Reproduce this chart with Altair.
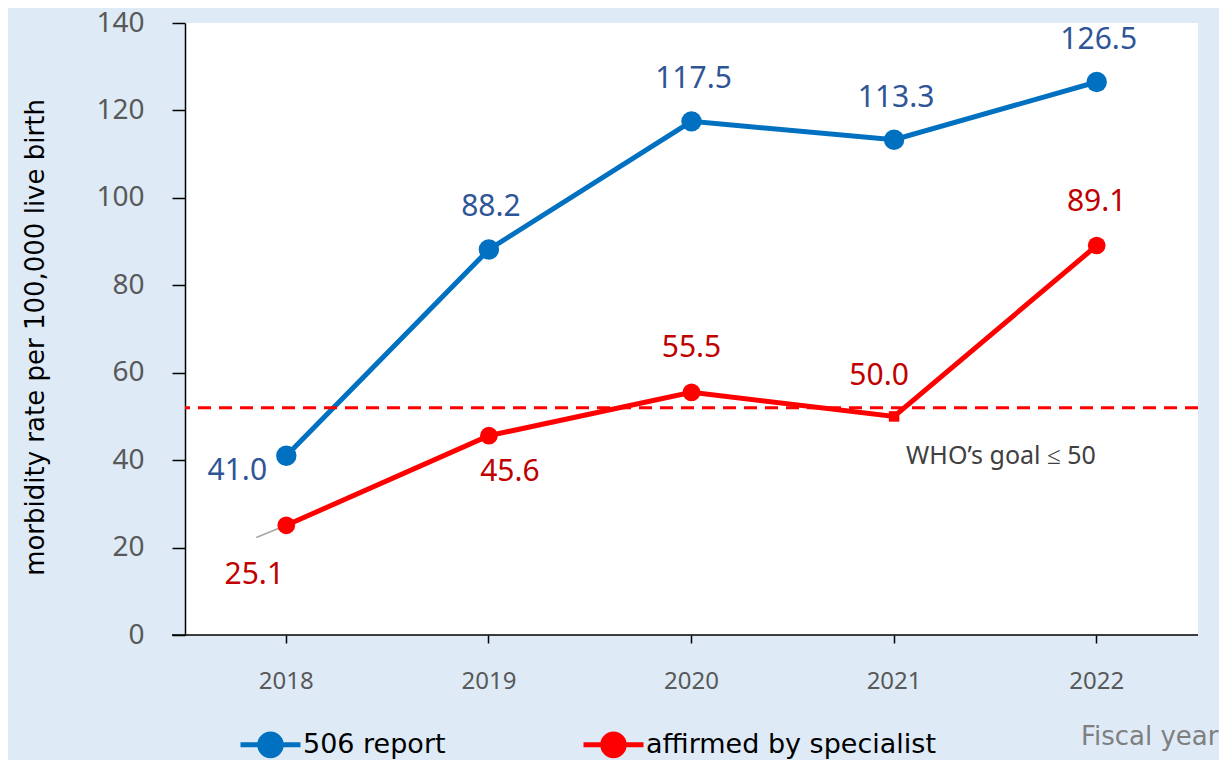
import altair as alt
import pandas as pd

years = ["2018", "2019", "2020", "2021", "2022"]
report_506 = [41.0, 88.2, 117.5, 113.3, 126.5]
affirmed = [25.1, 45.6, 55.5, 50.0, 89.1]
series_names = ["506 report", "affirmed by specialist"]
who_goal_line = 52.0
who_label_value = 40.9
leader_end_value = 22.3

rows = []
for y, v in zip(years, report_506):
    rows.append({"year": y, "value": v, "series": series_names[0]})
for y, v in zip(years, affirmed):
    rows.append({"year": y, "value": v, "series": series_names[1]})
df = pd.DataFrame(rows)

BLUE = "#0070C0"
RED = "#FF0000"
BLUE_TXT = "#2F5597"
RED_TXT = "#C00000"
FONT = "Noto Sans"
FONT2 = "DejaVu Sans"

x_enc = alt.X("year:O", sort=years,
              axis=alt.Axis(title="Fiscal year", labelAngle=0, labelFontSize=24,
                            labelColor="#595959", labelFont=FONT, labelPadding=26,
                            tickSize=8, tickColor="black", tickWidth=1.5,
                            domain=False, titleFont=FONT2, titleFontSize=26,
                            titleColor="#7F7F7F", titleFontWeight="normal",
                            titleAnchor="end", titleAlign="right",
                            titleX=1033, titleY=101, titleBaseline="middle"))
y_enc = alt.Y("value:Q", scale=alt.Scale(domain=[0, 140]),
              axis=alt.Axis(title="morbidity rate per 100,000 live birth",
                            values=[0, 20, 40, 60, 80, 100, 120, 140], grid=False,
                            labelFontSize=28, labelColor="#595959", labelFont=FONT,
                            labelPadding=28, tickSize=13, tickColor="black", tickWidth=1.5,
                            domainColor="black", domainWidth=1.5,
                            titleFont=FONT2, titleFontSize=26, titleColor="black",
                            titleFontWeight="normal", titlePadding=47, titleY=314))

base = alt.Chart(df)

legend_path = "M-1,0L1,0M0.36,0A0.36,0.36,0,1,1,-0.36,0A0.36,0.36,0,1,1,0.36,0Z"
color_scale = alt.Scale(domain=series_names, range=[BLUE, RED])
legend = alt.Legend(title=None, orient="none", legendX=53, legendY=689,
                    direction="horizontal", symbolType=legend_path,
                    symbolSize=3600, symbolStrokeWidth=5,
                    labelFontSize=27, labelFont=FONT2, labelColor="black",
                    labelOffset=0, columnPadding=127, padding=0, labelLimit=400)

lines = base.mark_line(strokeWidth=5).encode(
    x=x_enc, y=y_enc,
    color=alt.Color("series:N", scale=color_scale, legend=legend),
)

blue_pts = base.transform_filter(alt.datum.series == series_names[0]).mark_point(
    filled=True, opacity=1, size=415).encode(
    x=x_enc, y="value:Q",
    color=alt.Color("series:N", scale=color_scale, legend=legend))
red_pts = base.transform_filter(
    (alt.datum.series == series_names[1]) & (alt.datum.year != "2021")).mark_point(
    filled=True, opacity=1, size=314).encode(
    x=x_enc, y="value:Q",
    color=alt.Color("series:N", scale=color_scale, legend=legend))
red_sq = base.transform_filter(
    (alt.datum.series == series_names[1]) & (alt.datum.year == "2021")).mark_point(
    filled=True, shape="square", size=110, opacity=1, color=RED).encode(x=x_enc, y="value:Q")

goal = alt.Chart(pd.DataFrame({"goal": [who_goal_line]})).mark_rule(
    color=RED, strokeWidth=3, strokeDash=[13, 8]).encode(y="goal:Q")

who_text = alt.Chart(pd.DataFrame({"year": ["2021"], "v": [who_label_value],
                                   "t": ["WHO\u2019s goal \u2264 50"]})).mark_text(
    align="left", baseline="middle", dx=12, fontSize=25, font=FONT, color="#404040").encode(
    x=alt.X("year:O", sort=years), y="v:Q", text="t:N")

leader = alt.Chart(pd.DataFrame({"year": ["2018"], "v1": [affirmed[0]],
                                 "v2": [leader_end_value]})).mark_rule(
    color="#A6A6A6", strokeWidth=1.5, x2Offset=-30).encode(
    x=alt.X("year:O", sort=years), x2="year:O", y="v1:Q", y2="v2:Q")

def labels(series, yrs, color, dx, dy):
    return base.transform_filter(alt.datum.series == series).transform_filter(
        alt.FieldOneOfPredicate(field="year", oneOf=yrs)).mark_text(
        fontSize=30, font=FONT, color=color, dx=dx, dy=dy, baseline="middle").encode(
        x=alt.X("year:O", sort=years), y="value:Q", text=alt.Text("value:Q", format=".1f"))

lab_layers = [
    labels(series_names[0], ["2019", "2020", "2021", "2022"], BLUE_TXT, 2, -42),
    labels(series_names[0], ["2018"], BLUE_TXT, -49, 15),
    labels(series_names[1], ["2018"], RED_TXT, -32, 50),
    labels(series_names[1], ["2019"], RED_TXT, 21, 36),
    labels(series_names[1], ["2020", "2022"], RED_TXT, 0, -44),
    labels(series_names[1], ["2021"], RED_TXT, -15, -40),
]

xline = alt.Chart(pd.DataFrame({"a": [0]})).mark_rule(color="black", strokeWidth=1.5).encode(
    x=alt.value(-13), x2=alt.value(1013), y=alt.value(612))

chart = alt.layer(lines, goal, leader, blue_pts, red_pts, red_sq, who_text, xline,
                  *lab_layers).properties(
    width=1013, height=612,
    autosize=alt.AutoSizeParams(type="none"),
    padding={"left": 177, "top": 15, "right": 21, "bottom": 125},
    background="#DEEBF7",
).configure_view(fill="white", stroke=None)

chart.save("out.html", embed_options={"renderer": "svg", "actions": False})
